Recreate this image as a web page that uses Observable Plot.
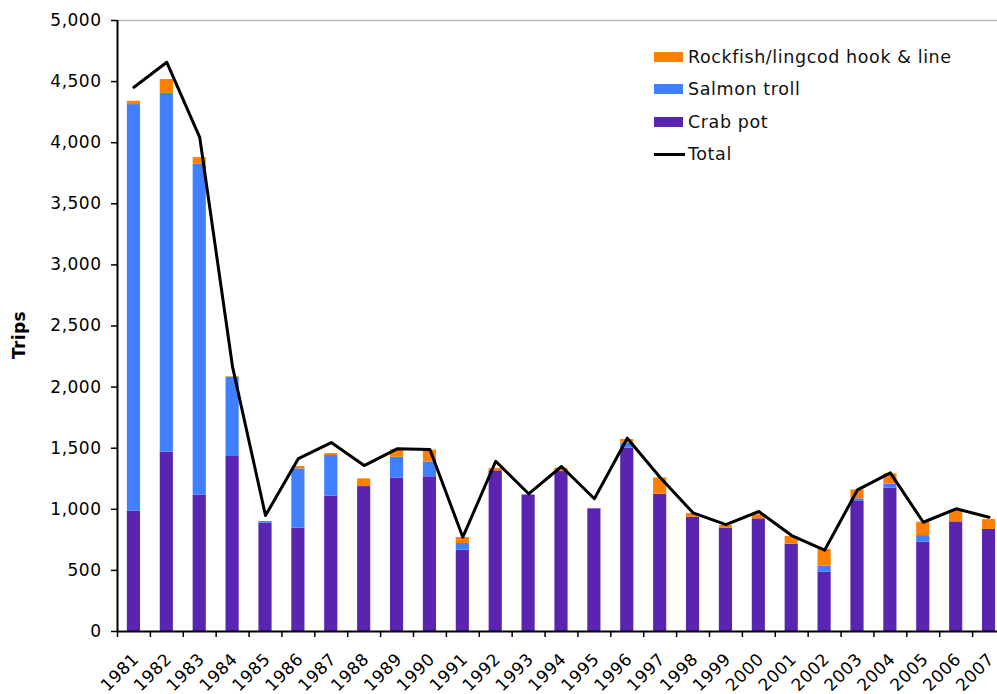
<!DOCTYPE html>
<html><head><meta charset="utf-8">
<script src="https://cdn.jsdelivr.net/npm/d3@7"></script>
<script src="https://cdn.jsdelivr.net/npm/@observablehq/plot@0.6"></script>
<style>
body{margin:0;background:#fff;font-family:"DejaVu Sans",Verdana,sans-serif;}
#wrap{position:relative;width:997px;height:694px;overflow:hidden;background:#fff;}
#wrap svg{position:absolute;left:0;top:0;}
#wrap svg text{letter-spacing:0.5px;}
.legend{position:absolute;left:654px;top:41px;font-size:17.5px;letter-spacing:0.6px;color:#111;}
.item{display:flex;align-items:center;height:32.3px;white-space:nowrap;}
.sw{width:29px;height:10px;margin-right:5px;}
.ln{width:31px;height:3px;background:#000;margin-right:3px;}
.ylab{position:absolute;left:19px;top:335px;transform:translate(-50%,-50%) rotate(-90deg);font-weight:bold;font-size:17px;letter-spacing:0.4px;color:#000;}
</style></head><body><div id="wrap"></div>
<script>
const years = [1981,1982,1983,1984,1985,1986,1987,1988,1989,1990,1991,1992,1993,1994,1995,1996,1997,1998,1999,2000,2001,2002,2003,2004,2005,2006,2007];
const crabPot = [984,1467,1115,1432,886,846,1107,1186,1254,1266,665,1315,1117,1309,1004,1500,1123,935,845,922,714,485,1069,1173,731,897,835];
const salmonTroll = [3328,2937,2708,649,14,485,333,0,172,122,55,0,0,0,0,41,0,0,0,0,0,49,17,32,54,0,0];
const rockfishHookLine = [27,113,55,4,0,19,16,63,61,96,49,19,0,27,0,30,134,30,22,33,63,137,73,85,109,93,81];
const total = [4454,4658,4044,2163,949,1415,1546,1358,1495,1489,772,1393,1127,1350,1086,1582,1260,971,875,982,785,665,1159,1298,894,1004,935];
const seriesNames = ["Crab pot","Salmon troll","Rockfish/lingcod hook & line"];
const seriesColors = ["#5824B0","#4080FF","#FF8000"];
const yTicks = [0,500,1000,1500,2000,2500,3000,3500,4000,4500,5000];
const legendOrder = ["Rockfish/lingcod hook & line","Salmon troll","Crab pot"];

const seriesValues = [crabPot, salmonTroll, rockfishHookLine];
const rows = years.flatMap((yr,i)=>seriesNames.map((s,k)=>({year:yr,type:s,value:seriesValues[k][i]})));
const totals = years.map((yr,i)=>({year:yr,value:total[i]}));
const edges = [...years.map(y=>y-0.5), years[years.length-1]+0.5];
const half = 0.2;
const fmt = d3.format(",");

const chart = Plot.plot({
  width:997, height:694, marginTop:20, marginBottom:63, marginLeft:117, marginRight:0,
  style:{fontFamily:'"DejaVu Sans",Verdana,sans-serif', fontSize:"17px", color:"#000", background:"#fff", overflow:"visible"},
  x:{domain:[edges[0], edges[edges.length-1]], range:[117,1005]},
  y:{domain:[0,5000]},
  color:{domain:seriesNames, range:seriesColors},
  marks:[
    Plot.ruleY([5000],{stroke:"#b8b8b8", strokeWidth:1.5}),
    Plot.rectY(rows, Plot.stackY({x1:d=>d.year-half, x2:d=>d.year+half, y:"value", fill:"type"})),
    Plot.lineY(totals,{x:"year", y:"value", stroke:"#000", strokeWidth:3}),
    Plot.axisY({ticks:yTicks, tickFormat:d=>fmt(d), tickSize:6, tickPadding:10, label:null, stroke:"#000", strokeWidth:1.5}),
    Plot.axisX({ticks:edges, tickFormat:()=>"", tickSize:6, label:null, stroke:"#000", strokeWidth:1.5}),
    Plot.axisX({ticks:years, tickFormat:d=>String(d), tickSize:0, tickRotate:-45, tickPadding:14, label:null, dx:2, dy:11, fontSize:17}),
    Plot.ruleX([edges[0]],{stroke:"#000", strokeWidth:2}),
    Plot.ruleY([0],{stroke:"#000", strokeWidth:2})
  ]
});
const wrap = document.getElementById("wrap");
wrap.appendChild(chart);
const yl = document.createElement("div"); yl.className="ylab"; yl.textContent="Trips"; wrap.appendChild(yl);
const lg = document.createElement("div"); lg.className="legend";
legendOrder.forEach(n=>{
  const it=document.createElement("div"); it.className="item";
  const sw=document.createElement("div"); sw.className="sw"; sw.style.background=seriesColors[seriesNames.indexOf(n)];
  const t=document.createElement("span"); t.textContent=n;
  it.appendChild(sw); it.appendChild(t); lg.appendChild(it);
});
const it=document.createElement("div"); it.className="item";
const ln=document.createElement("div"); ln.className="ln";
const t=document.createElement("span"); t.textContent="Total";
it.appendChild(ln); it.appendChild(t); lg.appendChild(it);
wrap.appendChild(lg);
</script></body></html>
